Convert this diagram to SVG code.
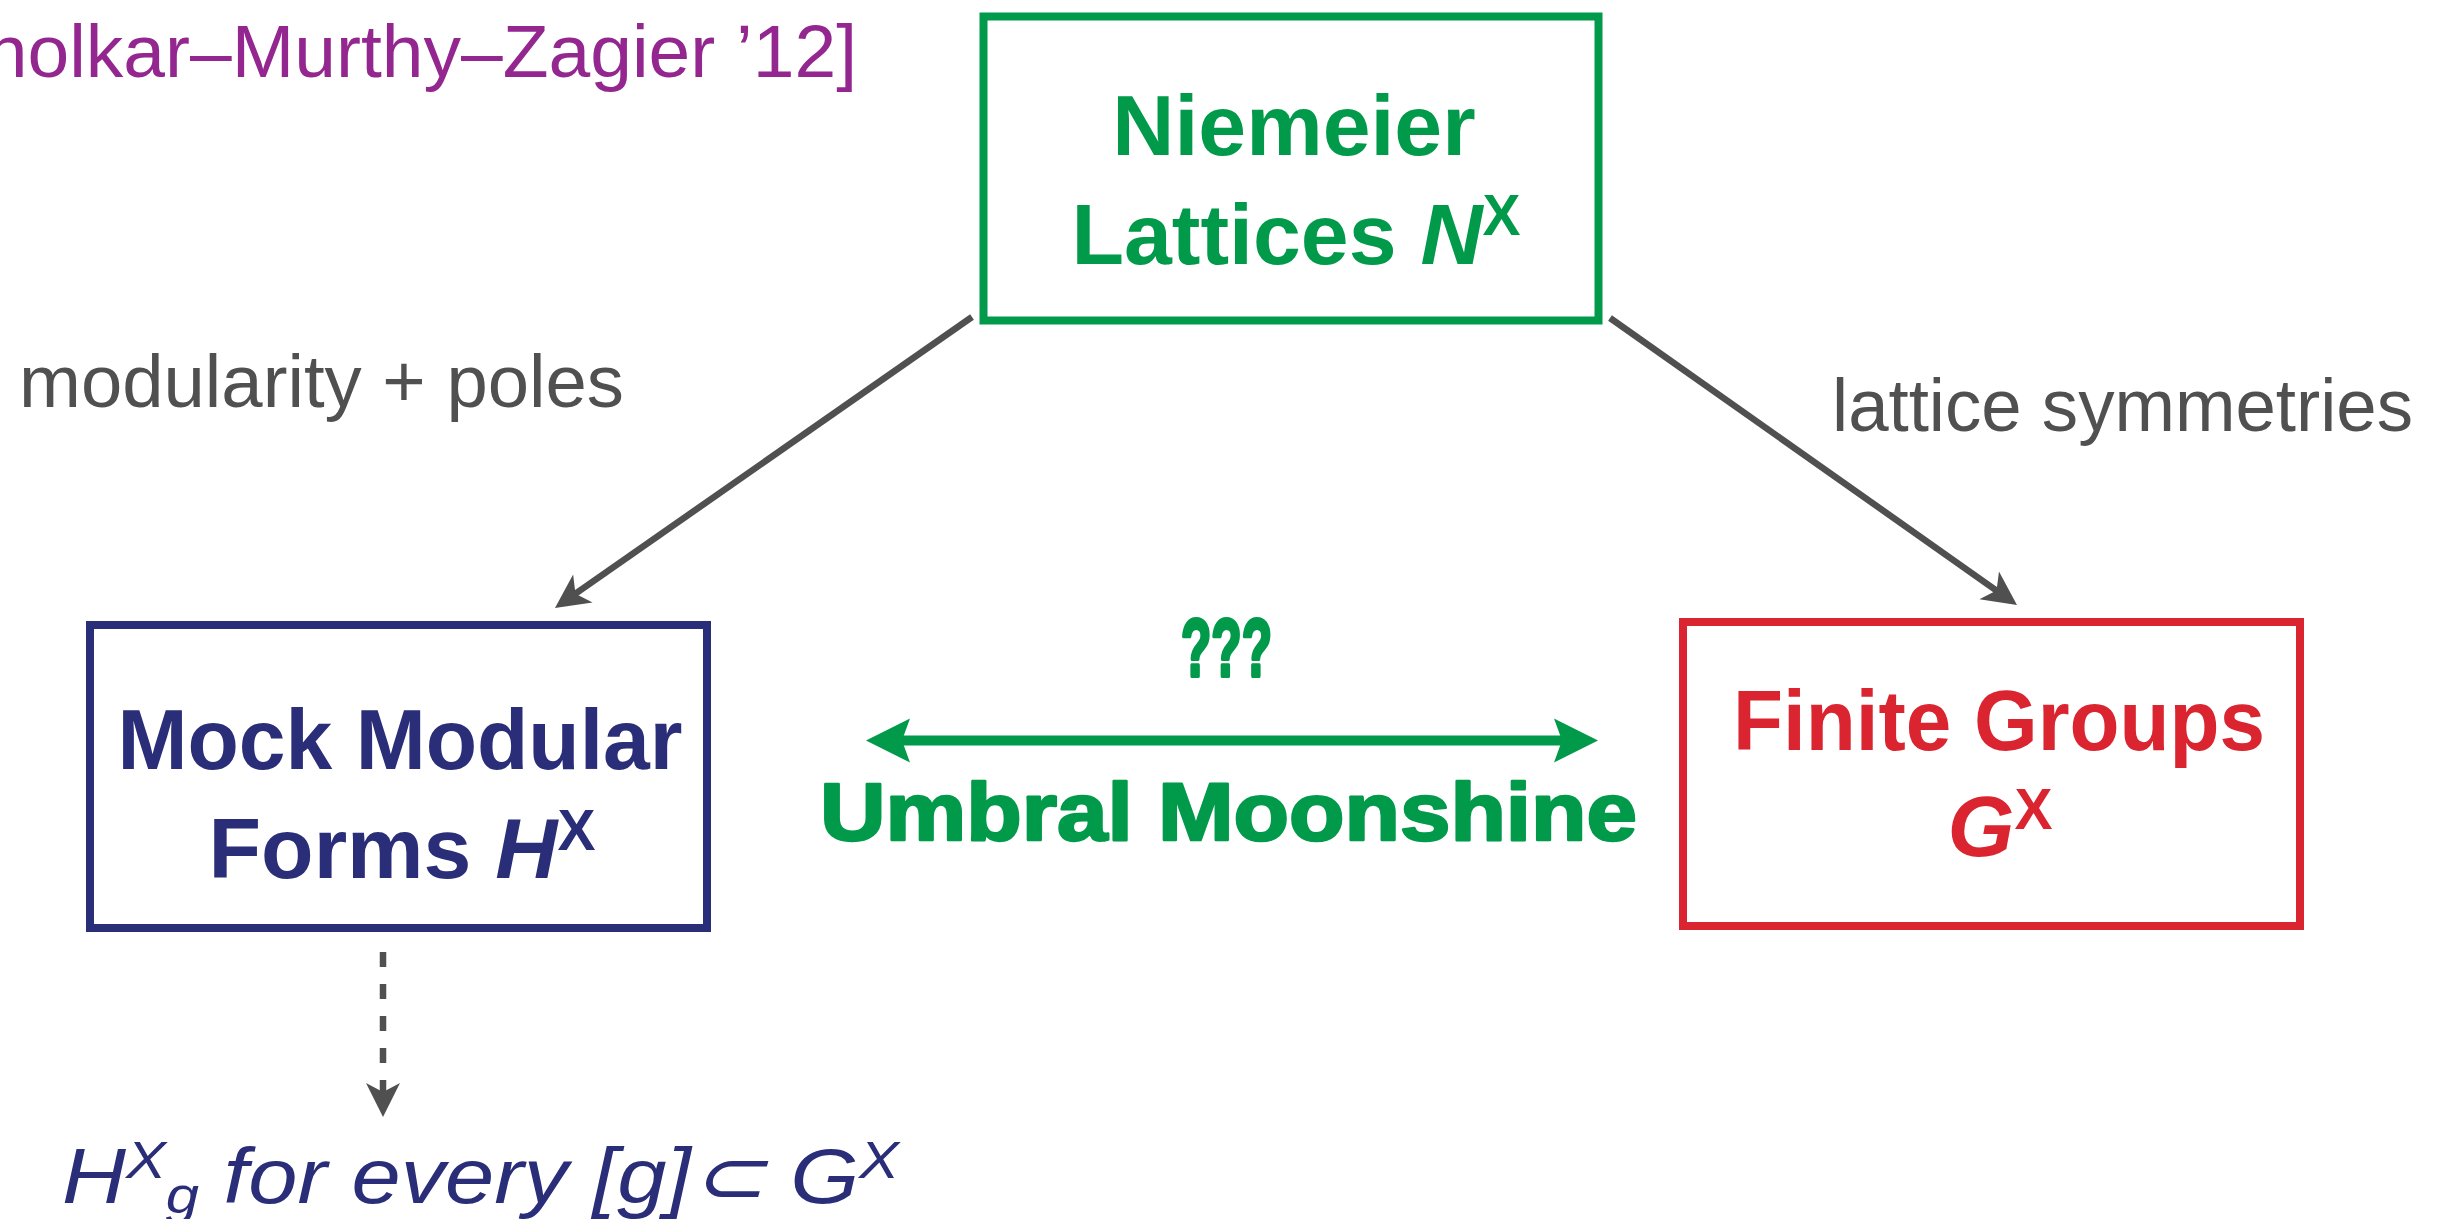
<svg xmlns="http://www.w3.org/2000/svg" width="2448" height="1219" viewBox="0 0 2448 1219">
  <style>
    .box { fill: none; stroke-width: 8; }
    .node-text { font-family: "Liberation Sans", Arial, sans-serif; font-weight: bold; font-size: 86px; text-anchor: middle; }
    .sup { font-size: 57px; font-style: normal; }
    .edge-label { font-family: "Liberation Sans", Arial, sans-serif; font-size: 74px; fill: #505050; }
    .gray-line { stroke: #505050; stroke-width: 6.5; fill: none; }
    .heavy { font-family: "Liberation Sans", Arial, sans-serif; font-weight: bold; fill: #009A4A; stroke: #009A4A; stroke-linejoin: round; }
  </style>
  <defs>
    <marker id="head-gray" markerUnits="userSpaceOnUse" orient="auto" refX="-22" refY="0" markerWidth="10" markerHeight="10" overflow="visible">
      <path d="M0,0 L-34,-17 L-25,0 L-34,17 Z" fill="#505050"/>
    </marker>
    <marker id="head-green" markerUnits="userSpaceOnUse" orient="auto-start-reverse" refX="-30" refY="0" markerWidth="10" markerHeight="10" overflow="visible">
      <path d="M0,0 L-44,-22 L-36,0 L-44,22 Z" fill="#009A4A"/>
    </marker>
  </defs>

  <rect width="2448" height="1219" fill="#ffffff"/>

  <!-- reference line, cut at the left edge -->
  <text x="857" y="77" font-family="'Liberation Sans', Arial, sans-serif" font-size="75" fill="#93278F" text-anchor="end">holkar–Murthy–Zagier ’12]</text>

  <!-- nodes -->
  <g id="niemeier">
    <rect class="box" x="983.5" y="16.5" width="615" height="304" stroke="#009A4A"/>
    <text class="node-text" x="1294" y="155" fill="#009A4A">Niemeier</text>
    <text class="node-text" x="1296" y="264" fill="#009A4A">Lattices <tspan font-style="italic">N</tspan><tspan class="sup" dy="-29">X</tspan></text>
  </g>

  <g id="mock-modular">
    <rect class="box" x="90" y="625" width="617" height="303" stroke="#2A2D77"/>
    <text class="node-text" x="400" y="769" fill="#2A2D77" textLength="565" lengthAdjust="spacingAndGlyphs">Mock Modular</text>
    <text class="node-text" x="402" y="878" fill="#2A2D77">Forms <tspan font-style="italic">H</tspan><tspan class="sup" dy="-28">X</tspan></text>
  </g>

  <g id="finite-groups">
    <rect class="box" x="1683" y="622" width="617" height="304" stroke="#DA2530"/>
    <text class="node-text" x="1999" y="750" fill="#DA2530" textLength="532" lengthAdjust="spacingAndGlyphs">Finite Groups</text>
    <text class="node-text" x="2000" y="856" fill="#DA2530"><tspan font-style="italic">G</tspan><tspan class="sup" dy="-27">X</tspan></text>
  </g>

  <g id="twisted-forms">
    <text x="62" y="1203" font-family="'Liberation Sans', Arial, sans-serif" font-style="italic" font-size="77" fill="#2A2D77" textLength="837" lengthAdjust="spacingAndGlyphs">H<tspan font-size="52" dy="-25">X</tspan><tspan font-size="52" dy="35">g</tspan><tspan dy="-10"> for every [g]⊂ G</tspan><tspan font-size="52" dy="-25">X</tspan></text>
  </g>

  <!-- connectors -->
  <g id="connectors">
    <line class="gray-line" x1="972" y1="317" x2="573" y2="595.4" marker-end="url(#head-gray)"/>
    <line class="gray-line" x1="1610" y1="318" x2="1999" y2="592.3" marker-end="url(#head-gray)"/>
    <line class="gray-line" x1="383" y1="952" x2="383" y2="1095" stroke-width="7" stroke-dasharray="15 17" marker-end="url(#head-gray)"/>
    <line x1="896" y1="740.5" x2="1568" y2="740.5" stroke="#009A4A" stroke-width="10" marker-start="url(#head-green)" marker-end="url(#head-green)"/>

    <text class="edge-label" x="19" y="407" textLength="605" lengthAdjust="spacingAndGlyphs">modularity + poles</text>
    <text class="edge-label" x="1832" y="431" textLength="581" lengthAdjust="spacingAndGlyphs">lattice symmetries</text>
    <text class="heavy" x="1181" y="676" font-size="82" stroke-width="4" textLength="91" lengthAdjust="spacingAndGlyphs">???</text>
    <text class="heavy" x="820" y="840" font-size="82" stroke-width="2.5" textLength="817" lengthAdjust="spacingAndGlyphs">Umbral Moonshine</text>
  </g>
</svg>
